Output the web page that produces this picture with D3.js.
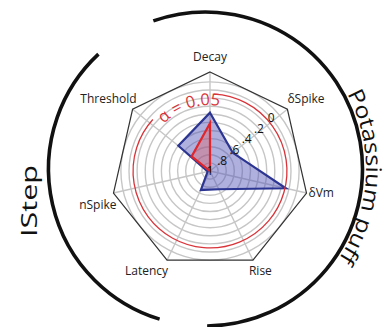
<!DOCTYPE html>
<html>
<head>
<meta charset="utf-8">
<script src="https://cdn.jsdelivr.net/npm/d3@7"></script>
<style>
  html, body { margin: 0; padding: 0; background: #fff; }
  svg { display: block; font-family: "Open Sans", "Noto Sans", sans-serif; }
</style>
</head>
<body>
<svg id="chart" width="389" height="327"></svg>
<script>
// Radar axes, clockwise from the top
const axes = ["Decay", "δSpike", "δVm", "Rise", "Latency", "nSpike", "Threshold"];

// p-values per axis (1 at the centre, 0 towards the rim)
const potassiumValues = [0.28, 0.64, 0.04, 0.75, 0.74, 0.97, 0.50];
const istepValues     = [0.41, 1.00, 1.00, 1.00, 1.00, 1.00, 0.71];

// Concentric grid rings and the scale labels
const gridValues = [0.9, 0.8, 0.7, 0.6, 0.5, 0.4, 0.3, 0.2, 0.1, 0.0, -0.1];
const tickValues = [0, 0.2, 0.4, 0.6, 0.8, 1];
const tickLabels = ["0", ".2", ".4", ".6", ".8", "1"];

// Significance threshold ring
const alphaLevel = 0.05;
const alphaLabel = "α = 0.05";

// Condition labels around the outside
const sideLabels = ["IStep", "Potassium puff"];

const svg = d3.select("#chart");
const cx = 210, cy = 171;
const frameR = 99;

const r = d3.scaleLinear().domain([1, 0]).range([0, 81]);
const angle = d3.scaleLinear().domain([0, axes.length]).range([0, 2 * Math.PI]);
const toRad = d => d * Math.PI / 180;

const g = svg.append("g").attr("transform", `translate(${cx},${cy})`);

// grid rings
g.selectAll("circle.grid").data(gridValues).join("circle")
  .attr("class", "grid")
  .attr("r", d => r(d))
  .attr("fill", "none")
  .attr("stroke", "#c6c6c6")
  .attr("stroke-width", 1.4);

// spokes
g.selectAll("line.spoke").data(axes).join("line")
  .attr("class", "spoke")
  .attr("x1", 0).attr("y1", 0)
  .attr("x2", (d, i) => frameR * Math.sin(angle(i)))
  .attr("y2", (d, i) => -frameR * Math.cos(angle(i)))
  .attr("stroke", "#c6c6c6")
  .attr("stroke-width", 1.4);

// heptagon frame
const frame = d3.lineRadial().curve(d3.curveLinearClosed)
  .angle((d, i) => angle(i)).radius(() => frameR);
g.append("path").attr("d", frame(axes))
  .attr("fill", "none").attr("stroke", "#333").attr("stroke-width", 1.2);

// data polygons
const poly = d3.lineRadial().curve(d3.curveLinearClosed)
  .angle((d, i) => angle(i)).radius(d => r(d));

g.append("path").attr("d", poly(potassiumValues))
  .attr("fill", "#4f4fb8").attr("fill-opacity", 0.45)
  .attr("stroke", "#2c3591").attr("stroke-width", 2.2)
  .attr("stroke-linejoin", "miter");

g.append("path").attr("d", poly(istepValues))
  .attr("fill", "#e85a5a").attr("fill-opacity", 0.35)
  .attr("stroke", "#e0262b").attr("stroke-width", 2.2)
  .attr("stroke-linejoin", "miter");

// alpha ring with a gap for its label
const ra = r(alphaLevel);
const ringPath = d3.path();
ringPath.arc(0, 0, ra, toRad(3) - Math.PI / 2, toRad(312) - Math.PI / 2);
g.append("path").attr("d", ringPath.toString())
  .attr("fill", "none").attr("stroke", "#d8343a").attr("stroke-width", 1.3);

const labelR = ra - 11;
const labelArc = d3.path();
labelArc.arc(0, 0, labelR, toRad(-60) - Math.PI / 2, toRad(40) - Math.PI / 2);
g.append("path").attr("id", "alphaArc").attr("d", labelArc.toString()).attr("fill", "none");
g.append("text")
  .attr("font-size", 16.5).attr("fill", "#d8343a")
  .append("textPath").attr("href", "#alphaArc")
  .attr("startOffset", labelR * toRad(15.5))
  .text(alphaLabel);

// scale labels
const tickAngle = toRad(49);
g.selectAll("text.tick").data(tickValues).join("text")
  .attr("class", "tick")
  .attr("x", d => r(d) * Math.sin(tickAngle))
  .attr("y", d => -r(d) * Math.cos(tickAngle))
  .attr("dy", "0.35em")
  .attr("text-anchor", "middle")
  .attr("font-size", 12)
  .attr("fill", "#111")
  .text((d, i) => tickLabels[i]);

// axis labels
g.selectAll("text.axis").data(axes).join("text")
  .attr("class", "axis")
  .attr("font-size", 12)
  .attr("fill", "#222")
  .each(function (d, i) {
    const a = angle(i);
    const vx = frameR * Math.sin(a), vy = -frameR * Math.cos(a);
    const s = Math.sin(a), c = Math.cos(a);
    const right = s > 0;
    let x = vx, y = vy, anchor = "middle";
    if (i === 0) { y = vy - 15; }
    else if (c > 0.3) { anchor = right ? "start" : "end"; x = vx + (right ? 0 : 4); y = vy - 10; }
    else if (c > -0.5) { anchor = right ? "start" : "end"; x = vx + (right ? 2 : 3); y = vy + (right ? 0 : 12); }
    else { anchor = right ? "start" : "end"; x = vx + (right ? -4 : 1); y = vy + 11; }
    d3.select(this).attr("x", x).attr("y", y).attr("dy", "0.35em")
      .attr("text-anchor", anchor).text(d);
  });

// outer condition arcs
const ocx = 205.5, ocy = 169, oR = 157;
const o = svg.append("g").attr("transform", `translate(${ocx},${ocy})`);

const leftArc = d3.path();
leftArc.arc(0, 0, oR, toRad(197) - Math.PI / 2, toRad(317) - Math.PI / 2);
o.append("path").attr("d", leftArc.toString())
  .attr("fill", "none").attr("stroke", "#111").attr("stroke-width", 3.6);

const rightArc = d3.path();
rightArc.arc(0, 0, oR, toRad(-19.4) - Math.PI / 2, toRad(179.4) - Math.PI / 2);
o.append("path").attr("d", rightArc.toString())
  .attr("fill", "none").attr("stroke", "#111").attr("stroke-width", 3.6);

// "IStep" reads bottom to top on the left
svg.append("text")
  .attr("transform", "translate(37,201) rotate(-90)")
  .attr("text-anchor", "middle")
  .attr("font-size", 22)
  .attr("fill", "#111")
  .attr("textLength", 72)
  .attr("lengthAdjust", "spacingAndGlyphs")
  .text(sideLabels[0]);

// "Potassium puff" follows the right arc
const textR = 160.5;
const puffArc = d3.path();
puffArc.arc(0, 0, textR, toRad(40) - Math.PI / 2, toRad(150) - Math.PI / 2);
o.append("path").attr("id", "puffArc").attr("d", puffArc.toString()).attr("fill", "none");
o.append("text")
  .attr("font-size", 21.5).attr("fill", "#111")
  .append("textPath").attr("href", "#puffArc")
  .attr("startOffset", textR * toRad(22))
  .attr("textLength", textR * toRad(62))
  .attr("lengthAdjust", "spacingAndGlyphs")
  .text(sideLabels[1]);
</script>
</body>
</html>
